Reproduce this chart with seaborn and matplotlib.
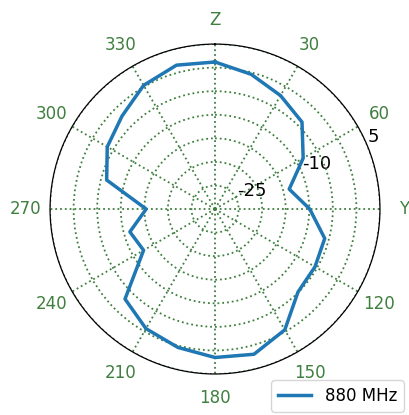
import matplotlib
matplotlib.use("Agg")
import matplotlib.pyplot as plt
import seaborn as sns
import numpy as np
import pandas as pd

# radiation pattern (dB) every 15 degrees
angles_deg = [0, 15, 30, 45, 60, 75, 90, 105, 120, 135, 150, 165,
              180, 195, 210, 225, 240, 255, 270, 285, 300, 315, 330, 345, 360]
gain_db = [1.2, -0.4, -2.2, -3.9, -8.4, -13.7, -9.9, -5.9, -5.5, -5.1, -0.4, 1.9,
           1.5, 0.4, -0.7, -3.0, -12.5, -11.3, -15.4, -6.2, -3.6, -2.1, 0.3, 1.6, 1.2]
series_name = "880 MHz"

theta_ticks = [0, 30, 60, 90, 120, 150, 180, 210, 240, 270, 300, 330]
theta_labels = ["Z", "30", "60", "Y", "120", "150", "180", "210", "240", "270", "300", "330"]
r_ticks = [-30, -25, -20, -15, -10, -5, 0, 5]
r_labels = ["", "-25", "", "", "-10", "", "", "5"]

df = pd.DataFrame({"theta": np.deg2rad(angles_deg), "gain": gain_db, "freq": series_name})

fig = plt.figure(figsize=(4.09, 4.15), dpi=100)
ax = fig.add_axes([0.1222, 0.0988, 0.807, 0.795], projection="polar")

sns.lineplot(data=df, x="theta", y="gain", hue="freq", palette=["#1f77b4"],
             sort=False, linewidth=2.5, ax=ax, legend=False)

ax.set_theta_zero_location("N")
ax.set_theta_direction(-1)
ax.set_ylim(-30, 5)
ax.set_xticks(np.deg2rad(theta_ticks))
ax.set_xticklabels(theta_labels)
ax.set_yticks(r_ticks)
ax.set_yticklabels(r_labels)
ax.set_rlabel_position(67.5)
ax.set_xlabel("")
ax.set_ylabel("")

grid_color = "#3f7f3f"
ax.grid(True, color=grid_color, linestyle=":", linewidth=1.3)
ax.tick_params(axis="x", colors=grid_color, labelsize=12, pad=7)
ax.tick_params(axis="y", labelsize=13, labelcolor="black")
ax.spines["polar"].set_color("black")
ax.spines["polar"].set_linewidth(0.9)

fig.legend(handles=ax.get_lines()[:1], labels=[series_name], loc="lower right",
           bbox_to_anchor=(0.995, 0.0), fontsize=12, borderaxespad=0.2)

plt.savefig("out.png", dpi=100)
